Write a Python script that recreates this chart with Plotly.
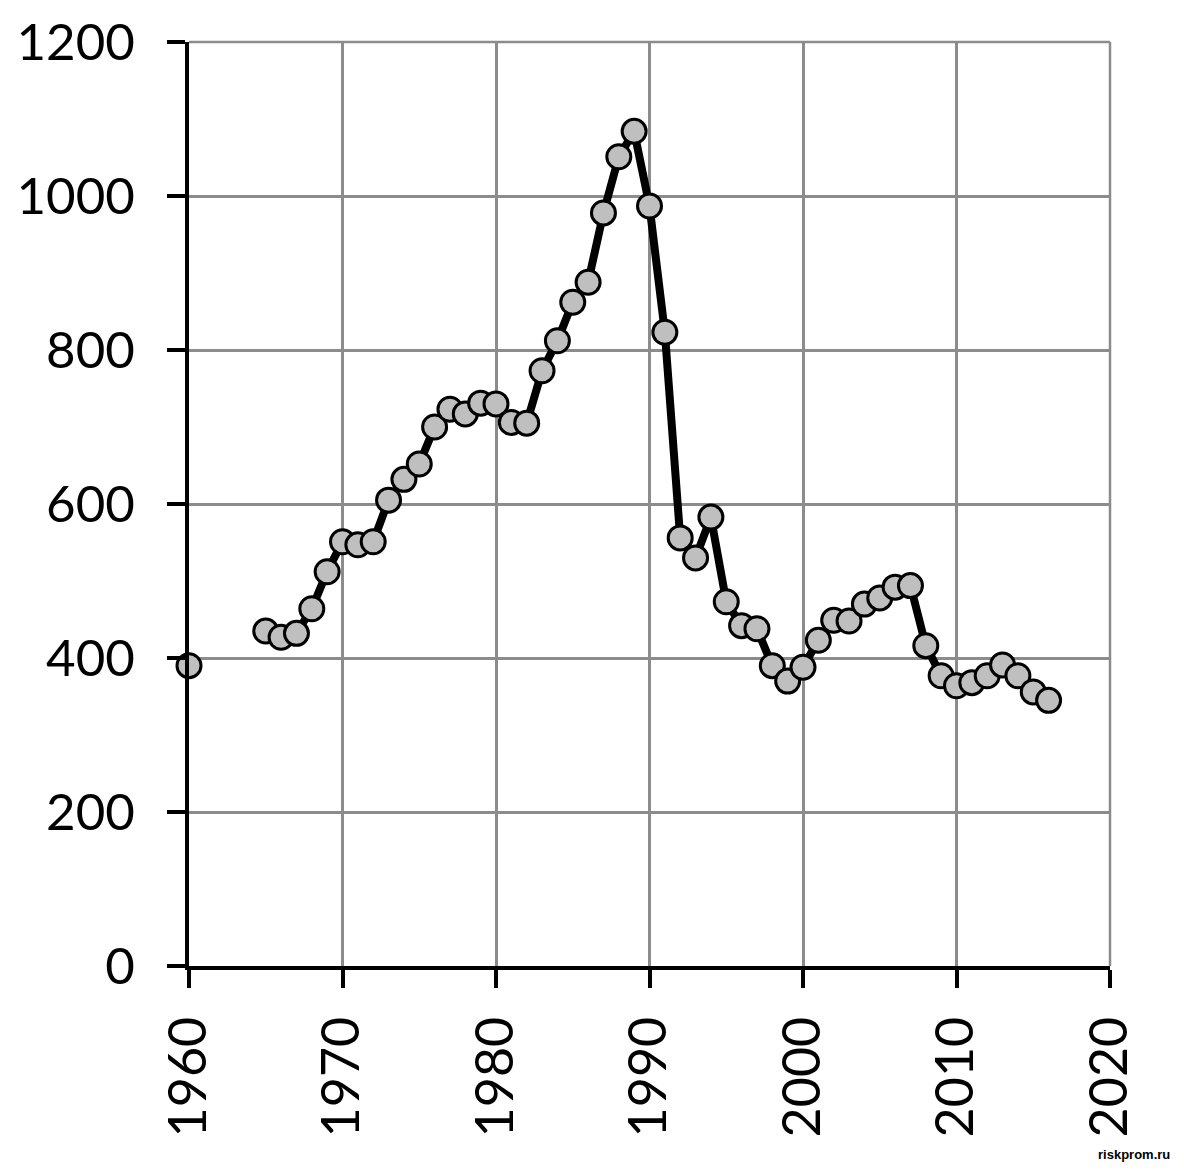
import plotly.graph_objects as go

years = [1960, 1961, 1962, 1963, 1964] + list(range(1965, 2017))
values = [390, None, None, None, None,
          435, 427, 432, 464, 512, 551, 547, 551, 605, 632,
          652, 700, 723, 717, 731, 730, 706, 705, 773, 812,
          862, 888, 978, 1051, 1084, 987, 823, 556, 530, 583,
          473, 442, 438, 390, 370, 388, 423, 449, 448, 470,
          478, 492, 494, 416, 377, 364, 368, 377, 391, 377,
          356, 345]

x_ticks = [1960, 1970, 1980, 1990, 2000, 2010, 2020]
y_ticks = [0, 200, 400, 600, 800, 1000, 1200]

fig = go.Figure()
fig.add_trace(go.Scatter(
    x=years, y=values, mode="lines+markers",
    line=dict(color="black", width=8),
    marker=dict(size=24, color="#bfbfbf", line=dict(color="black", width=3)),
    connectgaps=False, cliponaxis=False,
))

fig.update_layout(
    width=1184, height=1174,
    margin=dict(l=181, r=82, t=34, b=216, autoexpand=False),
    plot_bgcolor="white", paper_bgcolor="white",
    showlegend=False,
    font=dict(family="Lato", color="black", size=52),
)
fig.update_xaxes(
    range=[1960, 2020], tickvals=x_ticks, ticktext=[str(v) for v in x_ticks],
    tickangle=-90, showgrid=True, gridcolor="#8c8c8c", gridwidth=2.5,
    showline=True, linecolor="black", linewidth=4,
    ticks="outside", ticklen=18, tickwidth=4, tickcolor="black",
    zeroline=False, mirror=False, automargin=False, ticklabelstandoff=8,
)
fig.update_yaxes(
    range=[0, 1200], tickvals=y_ticks, ticktext=[str(v) for v in y_ticks],
    showgrid=True, gridcolor="#8c8c8c", gridwidth=2.5,
    showline=True, linecolor="black", linewidth=4,
    ticks="outside", ticklen=18, tickwidth=4, tickcolor="black",
    zeroline=False, ticklabelstandoff=22, automargin=False,
    tickfont=dict(size=51),
)
# right and top border gridlines
fig.add_shape(type="line", xref="paper", yref="paper", x0=1, x1=1, y0=0, y1=1,
              line=dict(color="#8c8c8c", width=2.5), layer="below")
fig.add_shape(type="line", xref="paper", yref="paper", x0=0, x1=1, y0=1, y1=1,
              line=dict(color="#8c8c8c", width=2.5), layer="below")

fig.add_annotation(text="<b>riskprom.ru</b>", xref="paper", yref="paper",
                   x=1.067, y=-0.2045, xanchor="right", yanchor="middle",
                   showarrow=False, font=dict(family="Liberation Sans", size=13, color="black"))

fig.write_html("out.html")
